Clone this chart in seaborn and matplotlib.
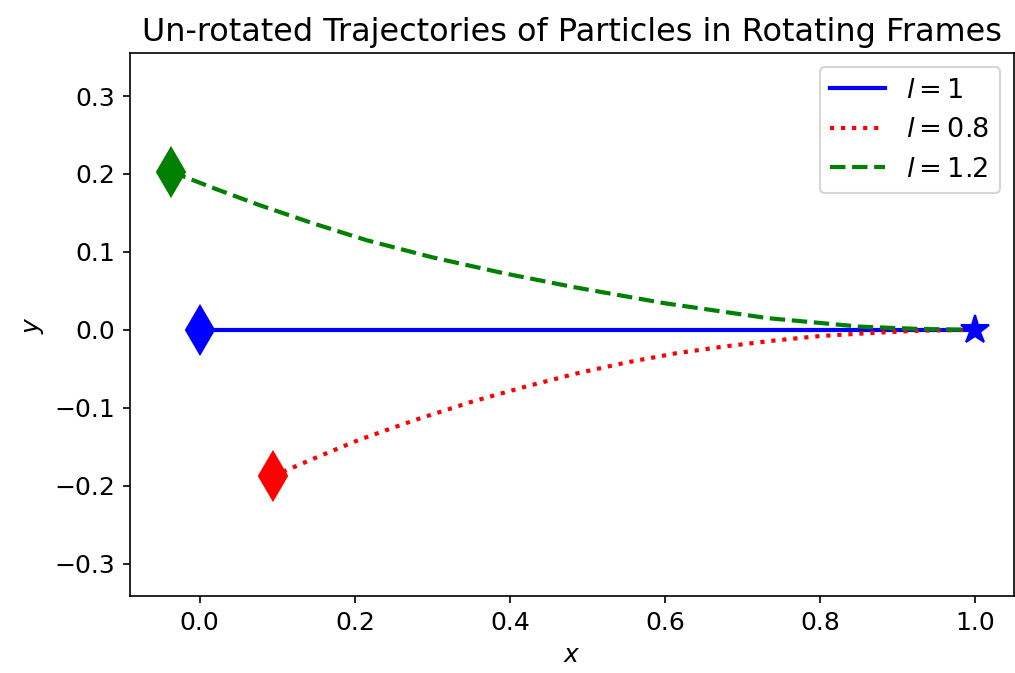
import numpy as np
import pandas as pd
import matplotlib
matplotlib.use("Agg")
import matplotlib.pyplot as plt
import seaborn as sns

# trajectory points
x_l1 = [0.0, 0.25, 0.5, 0.75, 1.0]
y_l1 = [0.0, 0.0, 0.0, 0.0, 0.0]

x_l08 = [0.094, 0.15, 0.206, 0.28, 0.352, 0.42, 0.486, 0.55, 0.615, 0.68, 0.739, 0.80, 0.868, 0.93, 1.0]
y_l08 = [-0.188, -0.164, -0.141, -0.115, -0.092, -0.073, -0.056, -0.042, -0.030, -0.021, -0.014, -0.008, -0.004, -0.001, 0.0]

x_l12 = [-0.037, 0.02, 0.077, 0.145, 0.215, 0.30, 0.39, 0.481, 0.60, 0.732, 0.852, 0.93, 1.0]
y_l12 = [0.203, 0.181, 0.160, 0.137, 0.115, 0.093, 0.073, 0.055, 0.034, 0.015, 0.004, 0.001, 0.0]

labels = ["$l = 1$", "$l = 0.8$", "$l = 1.2$"]
colors = ["blue", "red", "green"]
styles = ["-", ":", "--"]

series = [(x_l1, y_l1), (x_l08, y_l08), (x_l12, y_l12)]

fig, ax = plt.subplots(figsize=(1015 / 150, 673 / 150), dpi=150)
fig.subplots_adjust(left=0.128, right=0.999, top=0.921, bottom=0.114)

for (xs, ys), lab, c, ls in zip(series, labels, colors, styles):
    df = pd.DataFrame({"x": xs, "y": ys})
    sns.lineplot(data=df, x="x", y="y", sort=False, estimator=None, ax=ax,
                 color=c, linestyle=ls, linewidth=2, label=lab)
    # start marker
    ax.plot(xs[0], ys[0], marker="d", color=c, markersize=16, linestyle="none")

# common end point
ax.plot(x_l1[-1], y_l1[-1], marker="*", color="blue", markersize=14, linestyle="none")

ax.set_xlim(-0.09, 1.05)
ax.set_ylim(-0.342, 0.355)
ax.set_xticks([0.0, 0.2, 0.4, 0.6, 0.8, 1.0])
ax.set_yticks([-0.3, -0.2, -0.1, 0.0, 0.1, 0.2, 0.3])
ax.set_xlabel("$x$", fontsize=12)
ax.set_ylabel("$y$", fontsize=12)
ax.tick_params(labelsize=12)
ax.set_title("Un-rotated Trajectories of Particles in Rotating Frames", fontsize=15.3)
ax.legend(loc="upper right", fontsize=13)

fig.savefig("out.png", dpi=150)
